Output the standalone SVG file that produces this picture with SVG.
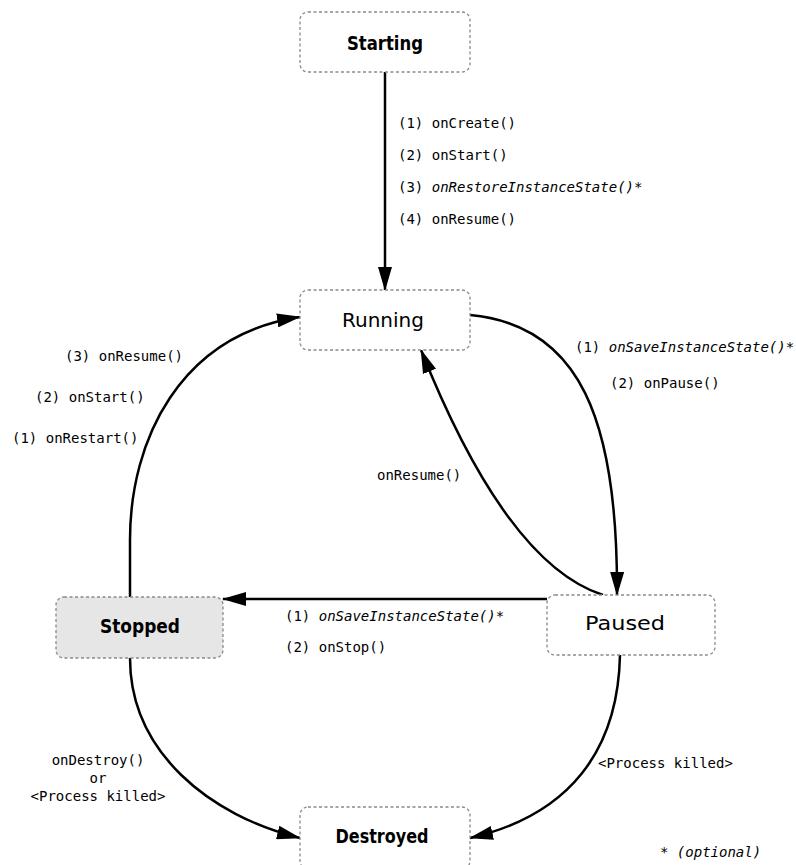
<svg xmlns="http://www.w3.org/2000/svg" width="796" height="865" viewBox="0 0 796 865">
  <defs>
    <marker id="arrow" viewBox="0 0 24 14" refX="23" refY="7" markerWidth="24" markerHeight="14" markerUnits="userSpaceOnUse" orient="auto">
      <path d="M0,0 L24,7 L0,14 Z" fill="#000"/>
    </marker>
    <style>
      .box { fill: #fff; stroke: #8a8a8a; stroke-width: 1.3; stroke-dasharray: 3 2.5; }
      .box.shaded { fill: #e6e6e6; }
      .title { font-family: "DejaVu Sans", "Liberation Sans", sans-serif; font-size: 20px; fill: #000; text-anchor: middle; }
      .title.heavy { font-weight: bold; }
      .lbl { font-family: "DejaVu Sans Mono", "Liberation Mono", monospace; font-size: 14px; fill: #000; }
      .it { font-style: italic; }
      .mid { text-anchor: middle; }
      .edge { fill: none; stroke: #000; stroke-width: 2.5; marker-end: url(#arrow); }
    </style>
  </defs>
  <rect width="796" height="865" fill="#fff"/>

  <!-- transitions -->
  <g id="connectors">
    <path class="edge" d="M385,72 L385,290"/>
    <path class="edge" d="M470,315 C580,325 618,420 617,595"/>
    <path class="edge" d="M603,595 C525,570 465,460 421,350"/>
    <path class="edge" d="M547,599 L223,599"/>
    <path class="edge" d="M130,597 L130,540 C130,440 180,335 300,317"/>
    <path class="edge" d="M130,658 C130,752 210,816 300,838"/>
    <path class="edge" d="M620,655 C618,750 570,815 470,838"/>

    <text class="lbl" x="398" y="128">(1) onCreate()</text>
    <text class="lbl" x="398" y="160">(2) onStart()</text>
    <text class="lbl" x="398" y="192">(3) <tspan class="it">onRestoreInstanceState()*</tspan></text>
    <text class="lbl" x="398" y="224">(4) onResume()</text>

    <text class="lbl" x="575" y="352">(1) <tspan class="it">onSaveInstanceState()*</tspan></text>
    <text class="lbl" x="610" y="388">(2) onPause()</text>

    <text class="lbl" x="65" y="361">(3) onResume()</text>
    <text class="lbl" x="35" y="402">(2) onStart()</text>
    <text class="lbl" x="12" y="443">(1) onRestart()</text>

    <text class="lbl" x="377" y="480">onResume()</text>

    <text class="lbl" x="285" y="621">(1) <tspan class="it">onSaveInstanceState()*</tspan></text>
    <text class="lbl" x="285" y="652">(2) onStop()</text>

    <text class="lbl mid" x="98" y="765">onDestroy()</text>
    <text class="lbl mid" x="98" y="783">or</text>
    <text class="lbl mid" x="98" y="801">&lt;Process killed&gt;</text>

    <text class="lbl" x="598" y="768">&lt;Process killed&gt;</text>
  </g>

  <g id="starting">
    <rect class="box" x="300" y="12" width="170" height="60" rx="8"/>
    <text class="title heavy" x="385" y="50" textLength="76" lengthAdjust="spacingAndGlyphs">Starting</text>
  </g>

  <g id="running">
    <rect class="box" x="300" y="290" width="170" height="60" rx="8"/>
    <text class="title" x="383" y="327">Running</text>
  </g>

  <g id="stopped">
    <rect class="box shaded" x="56" y="597" width="167" height="61" rx="8"/>
    <text class="title heavy" x="140" y="633" textLength="80" lengthAdjust="spacingAndGlyphs">Stopped</text>
  </g>

  <g id="paused">
    <rect class="box" x="547" y="595" width="168" height="60" rx="8"/>
    <text class="title" x="625" y="630" textLength="80" lengthAdjust="spacingAndGlyphs">Paused</text>
  </g>

  <g id="destroyed">
    <rect class="box" x="300" y="807" width="170" height="62" rx="8"/>
    <text class="title heavy" x="382" y="843" textLength="93" lengthAdjust="spacingAndGlyphs">Destroyed</text>
  </g>

  <g id="legend">
    <text class="lbl" x="660" y="857">* <tspan class="it">(optional)</tspan></text>
  </g>
</svg>
